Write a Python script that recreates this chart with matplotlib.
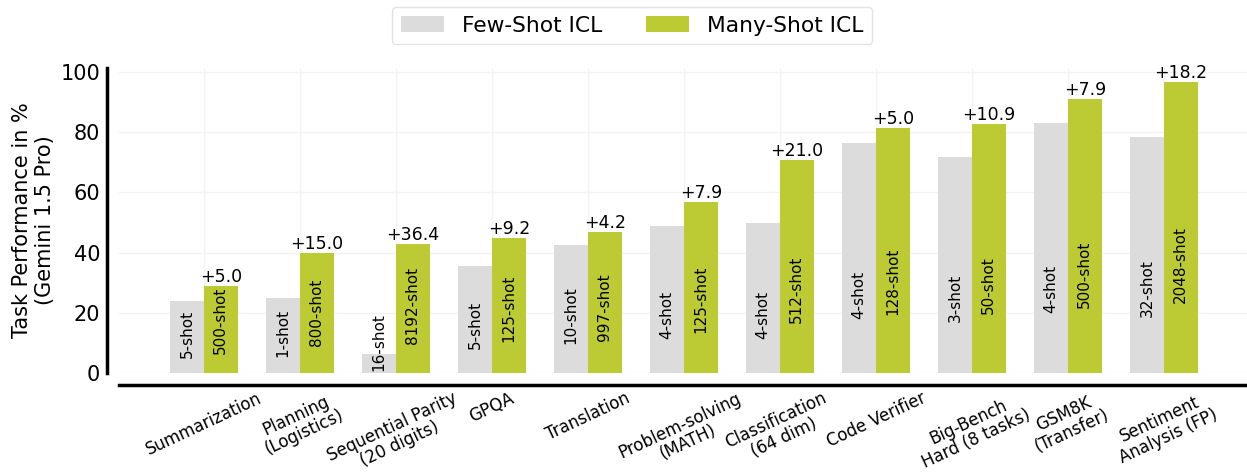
import matplotlib
matplotlib.use("Agg")
import matplotlib.pyplot as plt
import matplotlib.transforms as mtransforms
import numpy as np

# ---- data ----
tasks = ["Summarization", "Planning\n(Logistics)", "Sequential Parity\n(20 digits)", "GPQA",
         "Translation", "Problem-solving\n(MATH)", "Classification\n(64 dim)", "Code Verifier",
         "Big-Bench\nHard (8 tasks)", "GSM8K\n(Transfer)", "Sentiment\nAnalysis (FP)"]
few_shot = [24.0, 25.0, 6.4, 35.6, 42.6, 48.9, 49.8, 76.4, 71.8, 83.1, 78.5]
many_shot = [29.0, 40.0, 42.8, 44.8, 46.8, 56.8, 70.8, 81.4, 82.7, 91.0, 96.7]
few_labels = ["5-shot", "1-shot", "16-shot", "5-shot", "10-shot", "4-shot", "4-shot",
              "4-shot", "3-shot", "4-shot", "32-shot"]
many_labels = ["500-shot", "800-shot", "8192-shot", "125-shot", "997-shot", "125-shot",
               "512-shot", "128-shot", "50-shot", "500-shot", "2048-shot"]
yticks = [0, 20, 40, 60, 80, 100]

# ---- style ----
W, H, DPI = 1247, 474, 100
few_color = "#dcdcdc"
many_color = "#bccb33"
bar_w = 0.35

fig = plt.figure(figsize=(W / DPI, H / DPI), dpi=DPI)
ax = fig.add_axes([119 / W, 101 / H, (1249 - 119) / W, 305.5 / H])

for s in ["top", "right"]:
    ax.spines[s].set_visible(False)
for s in ["left", "bottom"]:
    ax.spines[s].set_position(("outward", 12 * 72 / DPI))
    ax.spines[s].set_linewidth(2.5)
    ax.spines[s].set_color("black")

x = np.arange(len(tasks))
b1 = ax.bar(x - bar_w / 2, few_shot, bar_w, color=few_color, label="Few-Shot ICL", zorder=2)
b2 = ax.bar(x + bar_w / 2, many_shot, bar_w, color=many_color, label="Many-Shot ICL", zorder=2)

down = mtransforms.ScaledTranslation(0, -3 / DPI, fig.dpi_scale_trans)
for bars, labs in ((b1, few_labels), (b2, many_labels)):
    for rect, lab in zip(bars, labs):
        ax.text(rect.get_x() + rect.get_width() / 2, rect.get_height() / 4, lab,
                rotation=90, ha="center", va="bottom", fontsize=11, color="black",
                zorder=3, transform=ax.transData + down)
for rect, f, m in zip(b2, few_shot, many_shot):
    ax.text(rect.get_x() + rect.get_width() / 2, rect.get_height(), "+%.1f" % round(m - f, 1),
            ha="center", va="bottom", fontsize=12.5, color="black", zorder=3)

ax.tick_params(axis="y", length=0, pad=5, labelsize=15)
ax.tick_params(axis="x", length=0, pad=3)
ax.set_yticks(yticks)
ax.set_xticks(x)
ax.set_xticklabels(tasks, rotation=25, ha="center", fontsize=12, linespacing=1.05)

ax.set_ylabel("Task Performance in %\n(Gemini 1.5 Pro)", fontsize=15)
ax.grid(True, color="#f3f3f3", linewidth=1)
ax.set_axisbelow(True)

fig.legend(loc="upper center", bbox_to_anchor=(632 / W, 1 + 4 / H), ncol=2, fontsize=15.7,
           frameon=True, edgecolor="#dddddd")

fig.savefig("out.png", dpi=DPI)
